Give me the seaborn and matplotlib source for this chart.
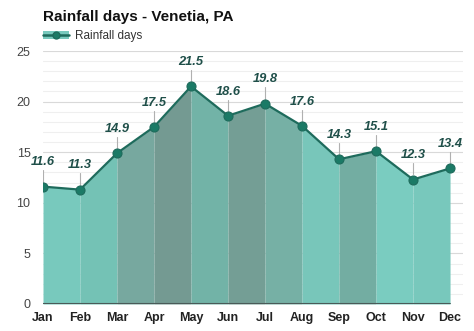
import matplotlib
matplotlib.use("Agg")
import matplotlib.pyplot as plt
import seaborn as sns
import pandas as pd
import numpy as np
from matplotlib.patches import Patch
from matplotlib.lines import Line2D

months = ["Jan", "Feb", "Mar", "Apr", "May", "Jun", "Jul", "Aug", "Sep", "Oct", "Nov", "Dec"]
rain_days = [11.6, 11.3, 14.9, 17.5, 21.5, 18.6, 19.8, 17.6, 14.3, 15.1, 12.3, 13.4]
segment_colors = ["#78c9bd", "#74c2b5", "#77a89f", "#749a92", "#72b3a7", "#749e95",
                  "#76b0a5", "#78c6ba", "#73ada2", "#7accc0", "#78c8bc"]
yticks = [0, 5, 10, 15, 20, 25]

df = pd.DataFrame({"month": months, "x": range(len(months)), "days": rain_days})

sns.set_style("white")
plt.rcParams["font.family"] = ["Liberation Sans", "DejaVu Sans"]

fig = plt.figure(figsize=(4.74, 3.31), dpi=100)
ax = fig.add_axes([43 / 474, 27 / 331, 420 / 474, 253 / 331])

line_c = "#1e6b5c"
mark_c = "#1b7a66"
label_c = "#1f4f49"

# grid
for y in np.arange(1, 26, 1):
    ax.axhline(y, color="#efefef" if y % 5 else "#d9d9d9", lw=0.8, zorder=0)

# filled segments
xs = df["x"].to_numpy()
ys = df["days"].to_numpy()
for i in range(len(xs) - 1):
    ax.fill_between(xs[i:i + 2], ys[i:i + 2], 0, color=segment_colors[i], lw=0, zorder=1)

sns.lineplot(data=df, x="x", y="days", ax=ax, color=line_c, lw=1.6, zorder=3,
             marker="o", markersize=6.5, markerfacecolor=mark_c, markeredgecolor=line_c,
             markeredgewidth=0.8)

for x, y in zip(xs, ys):
    ax.plot([x, x], [y + 0.5, y + 1.6], color="#b0b0b0", lw=0.8, zorder=2)
    ax.text(x, y + 1.8, f"{y:.1f}", ha="center", va="bottom", fontsize=9.3,
            fontweight="bold", fontstyle="italic", color=label_c, zorder=4)

ax.axhline(0, xmin=0, xmax=11 / 11.35, color="#4a5a58", lw=1.5, zorder=3)

ax.set_xlim(0, 11.35)
ax.set_ylim(0, 25)
ax.set_xticks(range(len(months)))
ax.set_xticklabels(months, fontsize=9, fontweight="bold", color="#222222")
ax.set_yticks(yticks)
ax.set_yticklabels([str(t) for t in yticks], fontsize=9, color="#444444")
ax.tick_params(axis="x", length=0, pad=6)
ax.tick_params(axis="y", length=0, pad=9)
ax.set_xlabel("")
ax.set_ylabel("")
for s in ax.spines.values():
    s.set_visible(False)

fig.text(43 / 474, 1 - 17 / 331, "Rainfall days - Venetia, PA", fontsize=11,
         fontweight="bold", color="#111111", va="center", ha="left")

handle = (Patch(facecolor="#78c9bd", edgecolor="none"),
          Line2D([], [], color=line_c, lw=1.8, marker="o", markersize=5,
                 markerfacecolor=mark_c, markeredgecolor=line_c))
leg = fig.legend([handle], ["Rainfall days"], loc="center left",
                 bbox_to_anchor=(38 / 474, 1 - 36 / 331), frameon=False,
                 fontsize=8.5, handlelength=2.2, handletextpad=0.5, borderaxespad=0)
for t in leg.get_texts():
    t.set_color("#333333")

fig.savefig("out.png", dpi=100)
